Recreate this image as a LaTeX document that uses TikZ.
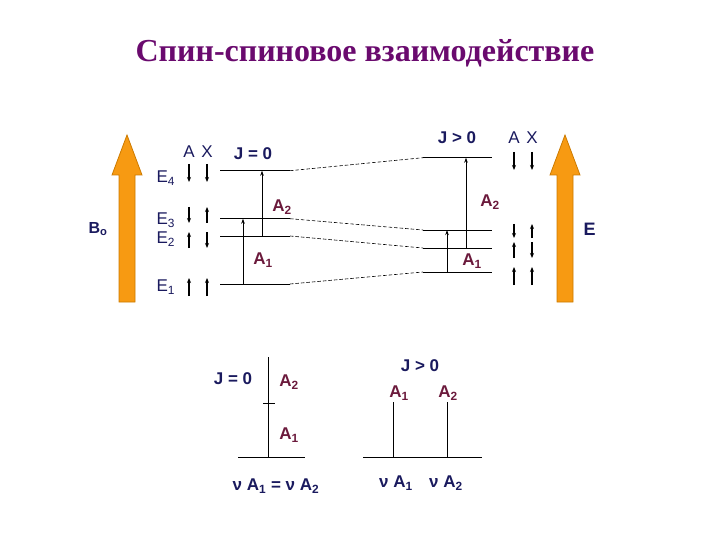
\documentclass[tikz,border=0pt]{standalone}
\usepackage{fontspec}
\setmainfont{Liberation Sans}
\newfontfamily\titlefont{Liberation Serif}
\usetikzlibrary{arrows.meta}
\definecolor{navy}{HTML}{1A1A5E}
\definecolor{plum}{HTML}{6B1A3C}
\definecolor{titlecol}{HTML}{6A0A6E}
\definecolor{accent}{HTML}{F79A12}
\definecolor{accentdark}{HTML}{CC7A00}

\begin{document}
\begin{tikzpicture}[x=1pt,y=-1pt,
    level/.style={line width=0.8pt},
    link/.style={line width=0.6pt, dash pattern=on 3.5pt off 2pt},
    trans/.style={line width=1pt, -{Stealth[length=5pt,width=3.5pt]}},
    spinarrow/.style={line width=1.1pt, -{Stealth[length=5pt,width=4pt]}},
    jlabel/.style={text=navy, font=\bfseries\fontsize{17}{17}\selectfont},
    alabel/.style={text=plum, font=\bfseries\fontsize{17}{17}\selectfont},
    elabel/.style={text=navy, font=\fontsize{17}{17}\selectfont},
    bigarrow/.style={fill=accent, draw=accentdark, line width=0.8pt}]
        \useasboundingbox (0,0) rectangle (720,540);
        \node[text=titlecol, font=\titlefont\bfseries\fontsize{32}{32}\selectfont] (title) at (365,53) {Спин-спиновое взаимодействие};

        % field arrows
        \filldraw[bigarrow] (119,302) -- (119,175) -- (112,175) -- (127,135)
            -- (142,175) -- (135,175) -- (135,302) -- cycle;
        \filldraw[bigarrow] (557,302) -- (557,175) -- (550,175) -- (565,135)
            -- (580,175) -- (573,175) -- (573,302) -- cycle;
        \node[text=navy, font=\bfseries\fontsize{16}{16}\selectfont] (bo) at (98,229) {B\textsubscript{o}};
        \node[text=navy, font=\bfseries\fontsize{18}{18}\selectfont, anchor=west] (e) at (580,229) {E};

        % spin states
        \node[elabel] (ahl) at (189,152) {A};
        \node[elabel] (xhl) at (207,152) {X};
        \node[elabel] (ahr) at (514,138) {A};
        \node[elabel] (xhr) at (532,138) {X};
        \node[elabel, anchor=west] (e4) at (153,178) {E\textsubscript{4}};
        \node[elabel, anchor=west] (e3) at (153,220) {E\textsubscript{3}};
        \node[elabel, anchor=west] (e2) at (153,239) {E\textsubscript{2}};
        \node[elabel, anchor=west] (e1) at (153,287) {E\textsubscript{1}};
        \foreach \x/\y/\d/\h in {189/173/1/9, 207/173/1/9, 189/215/1/8, 207/215/-1/8,
                189/240/-1/8, 207/240/1/8, 189/287/-1/9, 207/287/-1/9,
                514/161/1/9, 532/161/1/9, 514/231/1/7, 532/231/-1/7,
                514/250/-1/8, 532/250/1/8, 514/276/-1/9, 532/276/-1/9}
            \draw[spinarrow] (\x,{\y-\h*\d}) -- (\x,{\y+\h*\d});

        % energy levels
        \foreach \n/\ya/\yb in {4/170.7/157.7, 3/218.7/230, 2/236/248, 1/284/272} {
            \coordinate (L\n a) at (220,\ya);
            \coordinate (L\n b) at (290,\ya);
            \coordinate (R\n a) at (423,\yb);
            \coordinate (R\n b) at (492,\yb);
            \draw[level] (L\n a) -- (L\n b);
            \draw[link] (L\n b) -- (R\n a);
            \draw[level] (R\n a) -- (R\n b);
        }
        \node[jlabel] (j0) at (253,154) {J = 0};
        \node[jlabel] (j1) at (457,138) {J > 0};

        % transitions
        \coordinate (lA1) at (243,0);
        \coordinate (lA2) at (262,0);
        \coordinate (rA1) at (447,0);
        \coordinate (rA2) at (466,0);
        \draw[trans] (lA1 |- L1a) -- (lA1 |- L3a);
        \draw[trans] (lA2 |- L2a) -- (lA2 |- L4a);
        \draw[trans] (rA1 |- R1a) -- (rA1 |- R3a);
        \draw[trans] (rA2 |- R2a) -- (rA2 |- R4a);
        \node[alabel] (la2) at (282,207) {A\textsubscript{2}};
        \node[alabel] (la1) at (263,260) {A\textsubscript{1}};
        \node[alabel] (ra2) at (490,202) {A\textsubscript{2}};
        \node[alabel] (ra1) at (472,261) {A\textsubscript{1}};

        % spectra
        \coordinate (s0b) at (238,457);
        \coordinate (s0e) at (305,457);
        \coordinate (s0) at (268,457);
        \coordinate (s0t) at (268,357);
        \coordinate (tk1) at (263,403);
        \coordinate (tk2) at (275,403);
        \draw[level] (s0b) -- (s0e);
        \draw[level] (s0) -- (s0t);
        \draw[line width=0.6pt] (tk1) -- (tk2);
        \node[jlabel] (sj0) at (233,379) {J = 0};
        \node[alabel] (sa2) at (289,382) {A\textsubscript{2}};
        \node[alabel] (sa1) at (289,435) {A\textsubscript{1}};
        \node[jlabel] (nu0) at (276,486) {ν A\textsubscript{1} = ν A\textsubscript{2}};

        \coordinate (s1b) at (363,457);
        \coordinate (s1e) at (482,457);
        \coordinate (p1) at (393,457);
        \coordinate (p1t) at (393,402);
        \coordinate (p2) at (447,457);
        \coordinate (p2t) at (447,402);
        \draw[level] (s1b) -- (s1e);
        \draw[level] (p1) -- (p1t);
        \draw[level] (p2) -- (p2t);
        \node[jlabel] (sj1) at (420,366) {J > 0};
        \node[alabel] (sb1) at (399,393) {A\textsubscript{1}};
        \node[alabel] (sb2) at (448,393) {A\textsubscript{2}};
        \node[jlabel] (nu1) at (396,483) {ν A\textsubscript{1}};
        \node[jlabel] (nu2) at (446,483) {ν A\textsubscript{2}};
    \end{tikzpicture}
\end{document}
